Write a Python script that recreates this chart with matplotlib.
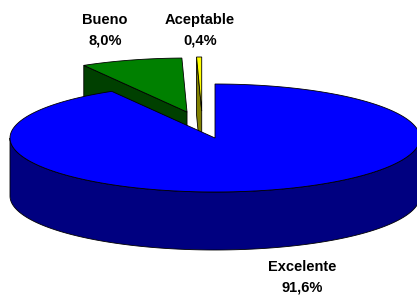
import numpy as np
import matplotlib
matplotlib.use("Agg")
import matplotlib.pyplot as plt
from matplotlib.patches import Polygon

labels = ['Excelente', 'Bueno', 'Aceptable']
values = [91.6, 8.0, 0.4]
pct_text = ['91,6%', '8,0%', '0,4%']
explode = [0.0, 0.5, 0.5]
top_colors = ['#0000FF', '#008000', '#FFFF00']
side_colors = ['#000080', '#004000', '#808000']

# pie geometry in pixels (y goes down)
cx, cy = 215, 138
a, b = 205, 54
depth = 58


def pt(t, off=(0, 0)):
    t = np.radians(t)
    return cx + off[0] + a * np.sin(t), cy + off[1] - b * np.cos(t)


def arc(t0, t1, off):
    ts = np.linspace(t0, t1, max(int(abs(t1 - t0)) + 2, 3))
    xs, ys = pt(ts, off=off)
    return np.column_stack([xs, ys])


def front(t):
    return np.cos(np.radians(t)) < 0


fig = plt.figure(figsize=(4.17, 2.95), dpi=100)
ax = fig.add_axes([0, 0, 1, 1])
ax.set_xlim(0, 417)
ax.set_ylim(295, 0)
ax.axis('off')

total = sum(values)
angles = np.cumsum([0] + [v / total * 360 for v in values])
lw = 0.6

# back slices first, the big one last
for i in reversed(range(len(values))):
    t0, t1 = angles[i], angles[i + 1]
    mid = (t0 + t1) / 2
    e = explode[i]
    off = (a * e * np.sin(np.radians(mid)), -b * e * np.cos(np.radians(mid)))
    if values[i] < 1:
        # the tiny slice sits a bit further left in the original
        off = (off[0] - 12, off[1])
    apex = np.array([cx + off[0], cy + off[1]])
    d = np.array([0, depth])

    # cut faces
    for t, nrm in ((t0, t0 - 90), (t1, t1 + 90)):
        if front(nrm):
            p = np.array(pt(t, off=off))
            quad = [apex, p, p + d, apex + d]
            ax.add_patch(Polygon(quad, closed=True, fc=side_colors[i], ec='black', lw=lw))

    # outer wall (front half only)
    lo, hi = max(t0, 90), min(t1, 270)
    if hi > lo:
        top = arc(lo, hi, off)
        bot = top[::-1] + d
        ax.add_patch(Polygon(np.vstack([top, bot]), closed=True,
                             fc=side_colors[i], ec='black', lw=lw))

    # top face
    face = np.vstack([apex, arc(t0, t1, off)])
    ax.add_patch(Polygon(face, closed=True, fc=top_colors[i], ec='black', lw=lw))

font = dict(family='Liberation Sans', fontsize=10.5, fontweight='bold', ha='center',
            va='center', linespacing=1.55)
ax.text(302, 277, labels[0] + '\n' + pct_text[0], **font)
ax.text(105, 30, labels[1] + '\n' + pct_text[1], **font)
ax.text(200, 30, labels[2] + '\n' + pct_text[2], **font)

fig.savefig('out.png', dpi=100)
